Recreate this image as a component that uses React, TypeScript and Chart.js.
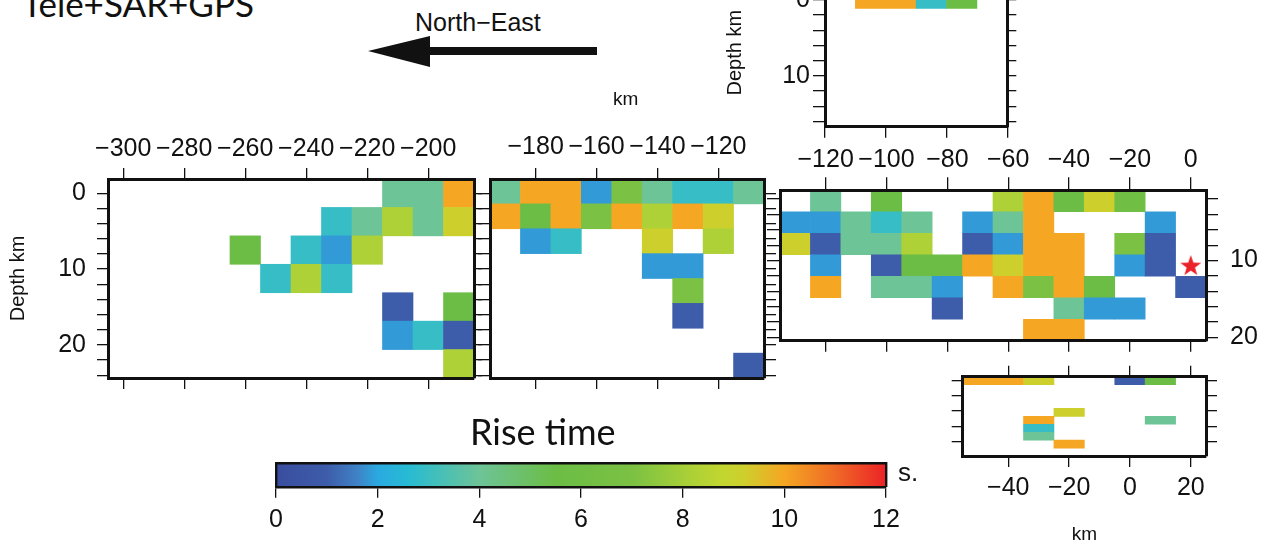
import React, { useEffect, useRef } from 'react';
import { Chart, registerables } from 'chart.js';

Chart.register(...registerables);

const _ = null;

// ---- rise-time colour scale (s) ----
const RISE_STOPS = [0, 1, 1.6, 2, 2.6, 4, 5.5, 7, 8.2, 8.8, 9.2, 10, 11, 12];
const RISE_COLORS = ['#3a4d9f', '#3d5ca9', '#3f82c6', '#2aa9e1', '#27bbd3', '#6dc497', '#6cbd45', '#7bc143', '#add136', '#c3d62f', '#cdcf2d', '#f5a623', '#ef6a26', '#ec2227'];
const COLORBAR_TICKS = [0, 2, 4, 6, 8, 10, 12];
const DEPTH_LABELS = [0, 10, 20];

// ---- segment A (left) ----
const A_COLUMNS = [-300, -290, -280, -270, -260, -250, -240, -230, -220, -210, -200, -190];
const A_RISE = [
  [_, _, _, _, _, _, _, _, _, 4, 4, 10],
  [_, _, _, _, _, _, _, 2.9, 4, 8.2, 4, 9.2],
  [_, _, _, _, 5.5, _, 2.9, 1.85, 8.2, _, _, _],
  [_, _, _, _, _, 2.9, 8.2, 2.9, _, _, _, _],
  [_, _, _, _, _, _, _, _, _, 1, _, 5.5],
  [_, _, _, _, _, _, _, _, _, 1.85, 2.9, 1],
  [_, _, _, _, _, _, _, _, _, _, _, 8.2],
];
const A_X_RANGE = [-305, -185];
const A_X_TICKS = [-300, -280, -260, -240, -220, -200];
const A_DEPTH_RANGE = [-1.875, 24.375];
const A_DEPTH_TICKS = [0, 2, 4, 6, 8, 10, 12, 14, 16, 18, 20, 22, 24];

// ---- segment B ----
const B_COLUMNS = [-190, -180, -170, -160, -150, -140, -130, -120, -110];
const B_RISE = [
  [4, 10, 10, 1.85, 7, 4, 2.9, 2.9, 4],
  [10, 5.5, 10, 7, 10, 8.2, 10, 9.2, _],
  [_, 1.85, 2.9, _, _, 9.2, _, 8.2, _],
  [_, _, _, _, _, 1.85, 1.85, _, _],
  [_, _, _, _, _, _, 7, _, _],
  [_, _, _, _, _, _, 1, _, _],
  [_, _, _, _, _, _, _, _, _],
  [_, _, _, _, _, _, _, _, 1],
];
const B_X_RANGE = [-195, -105];
const B_X_TICKS = [-180, -160, -140, -120];
const B_DEPTH_RANGE = [-1.875, 24.375];
const B_DEPTH_TICKS = [0, 2, 4, 6, 8, 10, 12, 14, 16, 18, 20, 22, 24];

// ---- segment C (main, with hypocentre) ----
const C_COLUMNS = [-130, -120, -110, -100, -90, -80, -70, -60, -50, -40, -30, -20, -10, 0];
const C_RISE = [
  [_, 4, _, 5.5, _, _, _, 8.2, 10, 5.5, 9.2, 6, _, _],
  [1.85, 1.85, 4, 2.9, 4, _, 1.85, 4, 10, _, _, _, 1.85, _],
  [9.2, 1, 4, 4, 8.2, _, 1, 1.85, 10, 10, _, 7, 1, _],
  [_, 1.85, _, 1, 5.5, 5.5, 10, 9.2, 10, 10, _, 1.85, 1, _],
  [_, 10, _, 4, 4, 1.85, _, 10, 7, 10, 5.5, _, _, 1],
  [_, _, _, _, _, 1, _, _, _, 4, 1.85, 1.85, _, _],
  [_, _, _, _, _, _, _, _, 10, 10, _, _, _, _],
];
const C_X_RANGE = [-135, 5];
const C_X_TICKS = [-120, -100, -80, -60, -40, -20, 0];
const C_DEPTH_RANGE = [0.85, 20.45];
const C_DEPTH_TICKS = [2, 4, 6, 8, 10, 12, 14, 16, 18, 20];
const HYPOCENTER = [{ x: 0, y: 10.6 }];

// ---- segment D (top) ----
const D_COLUMNS = [-115, -105, -95, -85, -75, -65];
const D_RISE = [
  [_, 10, 10, 2.9, 5.5, _],
  [_, _, _, _, _, _],
  [_, _, _, _, _, _],
  [_, _, _, _, _, _],
  [_, _, _, _, _, _],
];
const D_X_RANGE = [-120, -60];
const D_X_TICKS = [-120, -100, -80, -60];
const D_DEPTH_RANGE = [-2.8, 16.7];
const D_DEPTH_TICKS = [0, 2, 4, 6, 8, 10, 12, 14, 16];

// ---- segment E (bottom right) ----
const E_COLUMNS = [-50, -40, -30, -20, -10, 0, 10, 20];
const E_RISE = [
  [10, 10, 9.2, _, _, 1, 5.5, _],
  [_, _, _, _, _, _, _, _],
  [_, _, _, _, _, _, _, _],
  [_, _, _, _, _, _, _, _],
  [_, _, _, 9.2, _, _, _, _],
  [_, _, 10, _, _, _, 4, _],
  [_, _, 2.9, _, _, _, _, _],
  [_, _, 4, _, _, _, _, _],
  [_, _, _, 10, _, _, _, _],
  [_, _, _, _, _, _, _, _],
];
const E_X_RANGE = [-55, 25];
const E_X_TICKS = [-40, -20, 0, 20];
const E_DEPTH_RANGE = [-0.5, 9.9];
const E_DEPTH_TICKS = [0, 2, 4, 6, 8];

const TICK_FONT = "'Liberation Sans', Arial, Helvetica, sans-serif";
const TITLE_FONT = "Lato, 'Open Sans', sans-serif";
const TICK_SIZE = 25;
const INK = '#111';

function hexToRgb(h: string) {
  const n = parseInt(h.slice(1), 16);
  return [(n >> 16) & 255, (n >> 8) & 255, n & 255];
}
function riseColor(v: number) {
  if (v <= RISE_STOPS[0]) return RISE_COLORS[0];
  for (let i = 1; i < RISE_STOPS.length; i++) {
    if (v <= RISE_STOPS[i]) {
      const t = (v - RISE_STOPS[i - 1]) / (RISE_STOPS[i] - RISE_STOPS[i - 1]);
      const a = hexToRgb(RISE_COLORS[i - 1]);
      const b = hexToRgb(RISE_COLORS[i]);
      return `rgb(${Math.round(a[0] + (b[0] - a[0]) * t)},${Math.round(a[1] + (b[1] - a[1]) * t)},${Math.round(a[2] + (b[2] - a[2]) * t)})`;
    }
  }
  return RISE_COLORS[RISE_COLORS.length - 1];
}
const fmt = (v: number) => (v < 0 ? '\u2212' + Math.abs(v) : String(v));

type Box = { left: number; top: number; width: number; height: number; padL: number; padR: number; padT: number; padB: number };
type AxisTitle = { text: string; pad: number; size: number };

function hAxis(position: 'top' | 'bottom', range: number[], ticks: number[], size: number, tickLength: number, labels: boolean, pad: number, borderW: number, title?: AxisTitle) {
  return {
    type: 'linear', axis: 'x', position, min: range[0], max: range[1],
    offset: false, beginAtZero: false, bounds: 'data', grace: 0,
    afterBuildTicks: (s: any) => { s.ticks = ticks.map((value) => ({ value })); },
    afterFit: (s: any) => { s.height = size; },
    grid: { display: tickLength > 0, drawOnChartArea: false, drawTicks: true, tickLength, color: INK, lineWidth: 1.3, offset: false },
    border: { display: true, color: INK, width: borderW, z: 2 },
    ticks: { display: labels, autoSkip: false, maxRotation: 0, minRotation: 0, padding: pad, color: INK, font: { family: TICK_FONT, size: TICK_SIZE }, callback: (v: number) => fmt(v) },
    title: title
      ? { display: true, text: title.text, color: INK, font: { family: TICK_FONT, size: title.size }, padding: { top: 0, bottom: title.pad } }
      : { display: false },
  };
}

function vAxis(position: 'left' | 'right', range: number[], ticks: number[], size: number, tickLength: number, labels: boolean, pad: number, borderW: number, title?: AxisTitle) {
  return {
    type: 'linear', axis: 'y', position, min: range[0], max: range[1], reverse: true,
    offset: false, beginAtZero: false, bounds: 'data', grace: 0,
    afterBuildTicks: (s: any) => { s.ticks = ticks.map((value) => ({ value })); },
    afterFit: (s: any) => { s.width = size; },
    grid: { display: tickLength > 0, drawOnChartArea: false, drawTicks: true, tickLength, color: INK, lineWidth: 1.3, offset: false },
    border: { display: true, color: INK, width: borderW, z: 2 },
    ticks: { display: labels, autoSkip: false, padding: pad, color: INK, font: { family: TICK_FONT, size: TICK_SIZE }, callback: (v: number) => (DEPTH_LABELS.includes(v) ? fmt(v) : '') },
    title: title
      ? { display: true, text: title.text, color: INK, font: { family: TICK_FONT, size: title.size }, padding: { top: title.pad, bottom: 0 } }
      : { display: false },
  };
}

type PanelSpec = {
  columns: number[];
  rise: (number | null)[][];
  xRange: number[];
  xTicks: number[];
  depthRange: number[];
  depthTicks: number[];
  box: Box;
  tl: { t: number; b: number; l: number; r: number };
  xLabels: 'top' | 'bottom' | null;
  xPad: number;
  yLabels: 'left' | 'right' | null;
  yPad: number;
  yTitle?: AxisTitle;
  xTitle?: AxisTitle;
  star?: { x: number; y: number }[];
};

function makeStar(radius: number, color: string) {
  const size = Math.ceil(radius * 2 + 4);
  const c = document.createElement('canvas');
  c.width = size;
  c.height = size;
  const g = c.getContext('2d')!;
  const cx = size / 2;
  const cy = size / 2 + radius * 0.1;
  g.beginPath();
  for (let i = 0; i < 10; i++) {
    const r = i % 2 === 0 ? radius : radius * 0.4;
    const a = -Math.PI / 2 + (i * Math.PI) / 5;
    const px = cx + r * Math.cos(a);
    const py = cy + r * Math.sin(a);
    if (i === 0) g.moveTo(px, py);
    else g.lineTo(px, py);
  }
  g.closePath();
  g.fillStyle = color;
  g.fill();
  return c;
}

function panelConfig(p: PanelSpec) {
  const w = p.columns[1] - p.columns[0];
  const rows = p.rise.map((_r, i) => 'row' + i);
  const cells: any[] = [];
  p.rise.forEach((row, r) =>
    row.forEach((v, c) => {
      if (v !== null) cells.push({ x: [p.columns[c] - w / 2, p.columns[c] + w / 2], y: rows[r], v });
    })
  );
  const datasets: any[] = [
    {
      type: 'bar',
      data: cells,
      xAxisID: 'x',
      yAxisID: 'y',
      indexAxis: 'y',
      backgroundColor: (ctx: any) => riseColor(ctx.raw ? ctx.raw.v : 0),
      borderWidth: 0,
      barPercentage: 1,
      categoryPercentage: 1,
      grouped: false,
      order: 1,
    },
  ];
  if (p.star) {
    datasets.push({
      type: 'scatter',
      data: p.star,
      xAxisID: 'x',
      yAxisID: 'yd',
      indexAxis: 'x',
      pointStyle: makeStar(11, '#ea2229'),
      pointRadius: 11,
      showLine: false,
      order: 0,
    });
  }
  const b = p.box;
  return {
    type: 'bar',
    data: { labels: rows, datasets },
    options: {
      animation: false,
      responsive: false,
      indexAxis: 'y',
      events: [],
      layout: { padding: 0 },
      plugins: { legend: { display: false }, tooltip: { enabled: false }, title: { display: false } },
      scales: {
        x: hAxis('top', p.xRange, p.xTicks, b.padT, p.tl.t, p.xLabels === 'top', p.xPad, 3),
        xb: hAxis('bottom', p.xRange, p.xTicks, b.padB, p.tl.b, p.xLabels === 'bottom', p.xPad, 3, p.xTitle),
        y: { type: 'category', axis: 'y', labels: rows, display: false, offset: true, grid: { offset: true } },
        yd: vAxis('left', p.depthRange, p.depthTicks, b.padL, p.tl.l, p.yLabels === 'left', p.yPad, 3, p.yTitle),
        yr: vAxis('right', p.depthRange, p.depthTicks, b.padR, p.tl.r, p.yLabels === 'right', p.yPad, 3),
      },
    },
  };
}

const COLORBAR_BOX: Box = { left: 250, top: 450, width: 664, height: 96, padL: 26, padR: 28, padT: 13.3, padB: 59.3 };

function colorbarConfig() {
  const b = COLORBAR_BOX;
  const range = [COLORBAR_TICKS[0], COLORBAR_TICKS[COLORBAR_TICKS.length - 1]];
  const frame = (position: 'left' | 'right', size: number) => ({
    type: 'linear', axis: 'y', position, min: 0, max: 1, offset: false,
    afterFit: (s: any) => { s.width = size; },
    grid: { display: false },
    ticks: { display: false },
    border: { display: true, color: INK, width: 2.4, z: 2 },
  });
  return {
    type: 'bar',
    data: {
      labels: ['Rise time'],
      datasets: [
        {
          data: [{ x: range, y: 'Rise time' }],
          xAxisID: 'x',
          yAxisID: 'y',
          borderWidth: 0,
          barPercentage: 1,
          categoryPercentage: 1,
          backgroundColor: (ctx: any) => {
            const chart = ctx.chart;
            const xs = chart.scales.x;
            if (!chart.chartArea || !xs) return RISE_COLORS[0];
            const g = chart.ctx.createLinearGradient(xs.left, 0, xs.right, 0);
            RISE_STOPS.forEach((s, i) => {
              const f = (xs.getPixelForValue(s) - xs.left) / (xs.right - xs.left);
              g.addColorStop(Math.min(1, Math.max(0, f)), RISE_COLORS[i]);
            });
            return g;
          },
        },
      ],
    },
    options: {
      animation: false,
      responsive: false,
      indexAxis: 'y',
      events: [],
      layout: { padding: 0 },
      plugins: { legend: { display: false }, tooltip: { enabled: false } },
      scales: {
        x: hAxis('bottom', range, COLORBAR_TICKS, b.padB, 11, true, 7.3, 2.4),
        xt: { ...hAxis('top', range, COLORBAR_TICKS, b.padT, 0, false, 0, 2.4), grid: { display: false } },
        y: { type: 'category', axis: 'y', labels: ['Rise time'], display: false, offset: true },
        yl: frame('left', b.padL),
        yr: frame('right', b.padR),
      },
    },
  };
}

const PANELS: PanelSpec[] = [
  {
    columns: A_COLUMNS, rise: A_RISE, xRange: A_X_RANGE, xTicks: A_X_TICKS, depthRange: A_DEPTH_RANGE, depthTicks: A_DEPTH_TICKS,
    box: { left: 0, top: 120, width: 486, height: 290, padL: 108, padR: 12, padT: 59, padB: 32 },
    tl: { t: 11, b: 11, l: 11, r: 8 }, xLabels: 'top', xPad: 4, yLabels: 'left', yPad: 11,
    yTitle: { text: 'Depth km', pad: 6, size: 20 },
  },
  {
    columns: B_COLUMNS, rise: B_RISE, xRange: B_X_RANGE, xTicks: B_X_TICKS, depthRange: B_DEPTH_RANGE, depthTicks: B_DEPTH_TICKS,
    box: { left: 476, top: 120, width: 304, height: 290, padL: 14, padR: 16, padT: 59, padB: 32 },
    tl: { t: 11, b: 11, l: 12, r: 12 }, xLabels: 'top', xPad: 6, yLabels: null, yPad: 0,
  },
  {
    columns: C_COLUMNS, rise: C_RISE, xRange: C_X_RANGE, xTicks: C_X_TICKS, depthRange: C_DEPTH_RANGE, depthTicks: C_DEPTH_TICKS,
    box: { left: 764, top: 130, width: 503, height: 245, padL: 16, padR: 61, padT: 60.3, padB: 34.3 },
    tl: { t: 13, b: 11, l: 13, r: 12 }, xLabels: 'top', xPad: 2.3, yLabels: 'right', yPad: 12,
    star: HYPOCENTER,
  },
  {
    columns: D_COLUMNS, rise: D_RISE, xRange: D_X_RANGE, xTicks: D_X_TICKS, depthRange: D_DEPTH_RANGE, depthTicks: D_DEPTH_TICKS,
    box: { left: 690, top: -40, width: 332, height: 190, padL: 135, padR: 14.7, padT: 18.7, padB: 23.3 },
    tl: { t: 9, b: 11, l: 12, r: 9 }, xLabels: null, xPad: 0, yLabels: 'left', yPad: 3,
    yTitle: { text: 'Depth km', pad: 33, size: 20 },
  },
  {
    columns: E_COLUMNS, rise: E_RISE, xRange: E_X_RANGE, xTicks: E_X_TICKS, depthRange: E_DEPTH_RANGE, depthTicks: E_DEPTH_TICKS,
    box: { left: 943, top: 358, width: 283, height: 188, padL: 19.7, padR: 20, padT: 18.7, padB: 90 },
    tl: { t: 11, b: 11, l: 11, r: 11 }, xLabels: 'bottom', xPad: 6, yLabels: null, yPad: 0,
    xTitle: { text: 'km', pad: 0.2, size: 19 },
  },
];

function ChartBox({ box, make }: { box: Box; make: () => any }) {
  const ref = useRef<HTMLCanvasElement>(null);
  useEffect(() => {
    if (!ref.current) return;
    const chart = new Chart(ref.current, make());
    return () => chart.destroy();
  }, []);
  return (
    <canvas
      ref={ref}
      width={box.width}
      height={box.height}
      style={{ position: 'absolute', left: box.left, top: box.top, width: box.width, height: box.height }}
    />
  );
}

function Label({ text, left, baseline, size, family, asc }: { text: string; left: number; baseline: number; size: number; family: string; asc: number }) {
  return (
    <div
      style={{
        position: 'absolute', left, top: baseline - asc * size, fontSize: size, lineHeight: `${size}px`,
        fontFamily: family, color: INK, whiteSpace: 'nowrap',
      }}
    >
      {text}
    </div>
  );
}

const LIB_ASC = 0.8465;
const LATO_ASC = 0.887;

export default function App() {
  return (
    <div style={{ position: 'absolute', left: 0, top: 0, width: 1267, height: 546, overflow: 'hidden', background: '#fff' }}>
      {PANELS.map((p, i) => (
        <ChartBox key={i} box={p.box} make={() => panelConfig(p)} />
      ))}
      <ChartBox box={COLORBAR_BOX} make={colorbarConfig} />
      <Label text="Tele+SAR+GPS" left={22} baseline={17} size={35} family={TITLE_FONT} asc={LATO_ASC} />
      <Label text={'North\u2212East'} left={415} baseline={31.5} size={25} family={TICK_FONT} asc={LIB_ASC} />
      <Label text="km" left={613} baseline={105} size={19} family={TICK_FONT} asc={LIB_ASC} />
      <Label text="Rise time" left={470} baseline={445} size={36} family={TITLE_FONT} asc={LATO_ASC} />
      <Label text="s." left={898} baseline={481.5} size={26} family={TICK_FONT} asc={LIB_ASC} />
      <svg width={1267} height={546} style={{ position: 'absolute', left: 0, top: 0, pointerEvents: 'none' }}>
        <polygon points="368,51 430,36 430,47 597,47 597,55 430,55 430,67" fill={INK} />
      </svg>
    </div>
  );
}
